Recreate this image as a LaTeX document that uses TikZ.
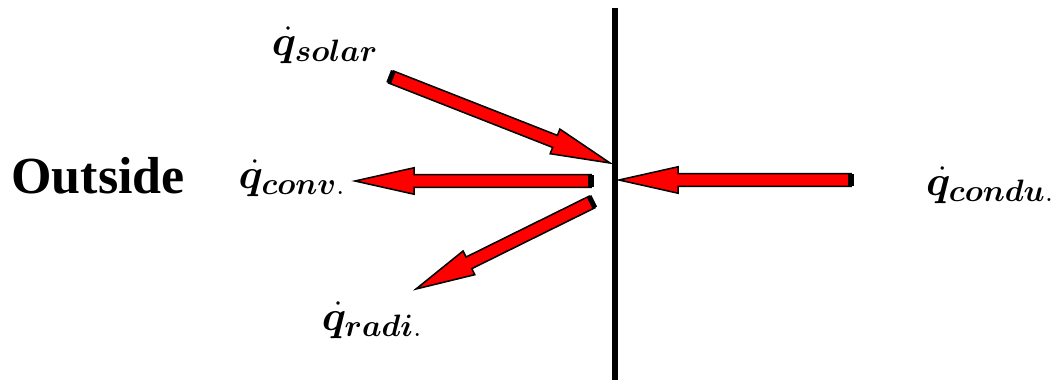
\RequirePackage{fix-cm}
\documentclass[tikz,border=0pt]{standalone}
\usepackage{amsmath}
\usepackage{bm}
\usepackage{fontspec}
\setmainfont{Liberation Serif}
\DeclareMathSizes{30}{30}{22}{16}
\usetikzlibrary{calc}

% block arrow from tail #1 to tip #2
\newcommand\heatarrow[2]{%
  \coordinate (hb) at ($(#2)!42pt!(#1)$);
  \draw[heat] ($(#1)!4.6pt!90:(#2)$) -- ($(hb)!4.6pt!90:(#2)$) -- ($(hb)!9.4pt!90:(#2)$)
    -- (#2) -- ($(hb)!9.4pt!-90:(#2)$) -- ($(hb)!4.6pt!-90:(#2)$) -- ($(#1)!4.6pt!-90:(#2)$) -- cycle;
  \draw[tailcap] ($(#1)!4.6pt!90:(#2)$) -- ($(#1)!4.6pt!-90:(#2)$);
}

\begin{document}
\begin{tikzpicture}[
  x=0.025cm, y=-0.025cm,
  heat/.style={draw=black, fill=red, line width=1.1pt, line join=miter},
  tailcap/.style={draw=black, line width=3.6pt},
  wall/.style={draw=black, line width=4.8pt},
  lbl/.style={font=\fontsize{30}{34}\selectfont, inner sep=0pt},
  side/.style={font=\fontsize{37}{41}\selectfont\bfseries, inner sep=0pt}
]
\useasboundingbox (0,0) rectangle (1056,385);

% ===== wall =====
\coordinate (wtop) at (615,8);
\coordinate (wbot) at (615,380);
\draw[wall] (wtop) -- (wbot);

% ===== labels =====
\node[side] (outside) at (98,176) {Outside};
\node[lbl] (solar) at (325,45) {$\bm{\dot q}_{\bm{solar}}$};
\node[lbl] (conv)  at (292,178) {$\bm{\dot q}_{\bm{conv}.}$};
\node[lbl] (condu) at (990,185) {$\bm{\dot q}_{\bm{condu}.}$};
\node[lbl] (radi)  at (372,320) {$\bm{\dot q}_{\bm{radi}.}$};

% ===== arrow ends =====
\coordinate (solar tail) at (391,77);
\coordinate (solar tip)  at (610,163);
\coordinate (conv tail)  at (591,181);
\coordinate (conv tip)   at (355,181);
\coordinate (condu tail) at (851,180);
\coordinate (condu tip)  at (619,180);
\coordinate (radi tail)  at (592,202);
\coordinate (radi tip)   at (416,289);

% ===== heat flows =====
\heatarrow{solar tail}{solar tip}
\heatarrow{conv tail}{conv tip}
\heatarrow{condu tail}{condu tip}
\heatarrow{radi tail}{radi tip}

\end{tikzpicture}
\end{document}
